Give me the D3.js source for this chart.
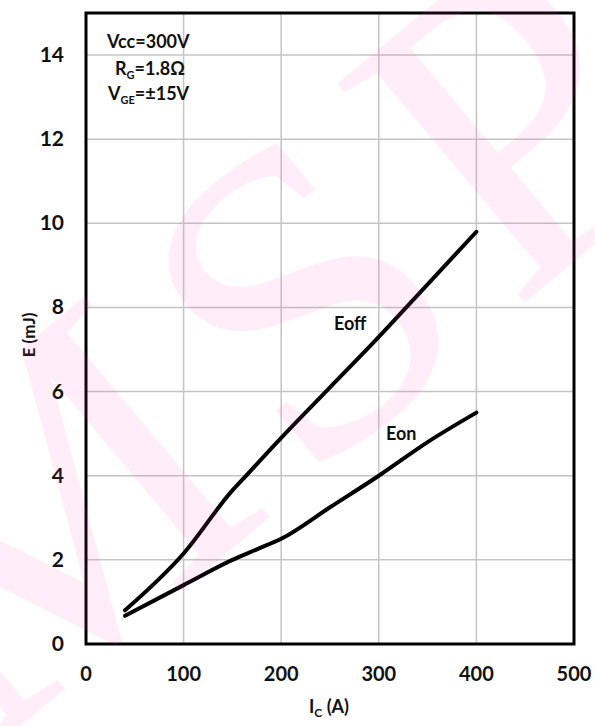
<!DOCTYPE html>
<html lang="en">

<head>
    <meta charset="UTF-8">
    <title>E vs Ic</title>
    <script src="https://d3js.org/d3.v7.min.js"></script>
    <style>
        body { margin: 0; background: #fff; }
        text { font-family: Lato, "Open Sans", sans-serif; font-weight: bold; fill: #111; }
    </style>
</head>

<body>

    <svg width="595" height="726"></svg>
    <script>
        // readings
        let icValues = [40, 100, 150, 160, 200, 250, 300, 350, 400]
        let eoffValues = [0.8, 2.15, 3.65, 3.9, 4.9, 6.1, 7.3, 8.55, 9.8]
        let eonIc = [40, 100, 150, 175, 200, 250, 300, 350, 400]
        let eonValues = [0.67, 1.4, 2.0, 2.25, 2.5, 3.25, 4.0, 4.8, 5.5]
        let xTicks = [0, 100, 200, 300, 400, 500]
        let yTicks = [0, 2, 4, 6, 8, 10, 12, 14]

        let svg = d3.select('svg')
        let plotL = 86, plotR = 574, plotT = 13, plotB = 644

        let x = d3.scaleLinear().domain([0, 500]).range([plotL, plotR])
        let y = d3.scaleLinear().domain([0, 15]).range([plotB, plotT])

        // grid
        svg.append('g').selectAll('line').data(xTicks.slice(1, -1)).join('line')
            .attr('x1', d => x(d)).attr('x2', d => x(d))
            .attr('y1', plotT).attr('y2', plotB)
            .attr('stroke', '#c4c4c4').attr('stroke-width', 1.5)
        svg.append('g').selectAll('line').data(yTicks.slice(1)).join('line')
            .attr('y1', d => y(d)).attr('y2', d => y(d))
            .attr('x1', plotL).attr('x2', plotR)
            .attr('stroke', '#c4c4c4').attr('stroke-width', 1.5)

        // frame
        svg.append('rect')
            .attr('x', plotL).attr('y', plotT)
            .attr('width', plotR - plotL).attr('height', plotB - plotT)
            .attr('fill', 'none').attr('stroke', '#000').attr('stroke-width', 3)

        // tick labels
        svg.append('g').selectAll('text').data(xTicks).join('text')
            .attr('x', d => x(d)).attr('y', 681)
            .attr('text-anchor', 'middle').style('font-size', '20px')
            .text(d => d)
        svg.append('g').selectAll('text').data(yTicks).join('text')
            .attr('x', 64).attr('y', d => y(d) + 7)
            .attr('text-anchor', 'end').style('font-size', '21px')
            .text(d => d)

        // axis titles
        svg.append('text')
            .attr('transform', 'translate(35,335) rotate(-90)')
            .attr('text-anchor', 'middle').style('font-size', '17px')
            .text('E (mJ)')
        let xt = svg.append('text')
            .attr('x', 329).attr('y', 713)
            .attr('text-anchor', 'middle').style('font-size', '18px')
        xt.append('tspan').text('I')
        xt.append('tspan').attr('dy', 4).style('font-size', '12px').text('C')
        xt.append('tspan').attr('dy', -4).text(' (A)')

        // curves
        let line = d3.line().x(d => x(d[0])).y(d => y(d[1])).curve(d3.curveMonotoneX)
        svg.append('path')
            .datum(d3.zip(icValues, eoffValues))
            .attr('d', line).attr('fill', 'none')
            .attr('stroke', '#000').attr('stroke-width', 4).attr('stroke-linecap', 'round')
        svg.append('path')
            .datum(d3.zip(eonIc, eonValues))
            .attr('d', line).attr('fill', 'none')
            .attr('stroke', '#000').attr('stroke-width', 4).attr('stroke-linecap', 'round')

        // curve labels
        svg.append('text').attr('x', 334).attr('y', 330).style('font-size', '18px').text('Eoff')
        svg.append('text').attr('x', 386).attr('y', 440).style('font-size', '18px').text('Eon')

        // conditions
        let cond = svg.append('g').style('font-size', '18px')
        cond.append('text').attr('x', 107).attr('y', 48).text('Vcc=300V')
        let rg = cond.append('text').attr('x', 115).attr('y', 75)
        rg.append('tspan').text('R')
        rg.append('tspan').attr('dy', 4).style('font-size', '11px').text('G')
        rg.append('tspan').attr('dy', -4).text('=1.8Ω')
        let vge = cond.append('text').attr('x', 108).attr('y', 100)
        vge.append('tspan').text('V')
        vge.append('tspan').attr('dy', 4).style('font-size', '11px').text('GE')
        vge.append('tspan').attr('dy', -4).text('=±15V')

        // watermark, laid over the chart
        svg.append('text')
            .attr('transform', 'translate(-20,760) rotate(-40)')
            .style('font-family', '"Liberation Serif", serif')
            .style('font-weight', 'normal')
            .style('font-size', '440px')
            .style('letter-spacing', '30px')
            .style('fill', '#ff4fc0')
            .style('opacity', 0.09)
            .text('MSP')
    </script>

</body>

</html>
